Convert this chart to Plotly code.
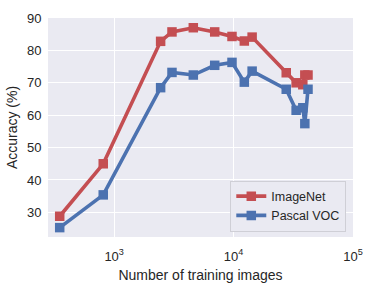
import plotly.graph_objects as go

n_images = [350, 810, 2450, 3050, 4600, 6950, 9700, 12300, 14300, 27600, 33400, 38000, 39500, 42000]
imagenet = [28.8, 45.0, 82.8, 85.7, 87.0, 85.7, 84.3, 82.9, 84.1, 73.1, 70.0, 69.4, 72.4, 72.4]
pascal = [25.3, 35.4, 68.5, 73.2, 72.4, 75.4, 76.3, 70.2, 73.6, 68.0, 61.5, 62.3, 57.4, 68.0]
series_names = ["ImageNet", "Pascal VOC"]
x_tickvals = [1e3, 1e4, 1e5]
x_ticktext = ["10<sup>3</sup>", "10<sup>4</sup>", "10<sup>5</sup>"]
y_tickvals = [30, 40, 50, 60, 70, 80, 90]

colors = ["#C44E52", "#4C72B0"]

fig = go.Figure()
for name, ys, c in zip(series_names, [imagenet, pascal], colors):
    fig.add_trace(go.Scatter(
        x=n_images, y=ys, name=name, mode="lines+markers",
        line=dict(color=c, width=3.6),
        marker=dict(symbol="square", size=9.5, color=c),
        cliponaxis=False,
    ))

fig.update_layout(
    width=374, height=291,
    margin=dict(l=47, r=18, t=11, b=50),
    paper_bgcolor="white",
    plot_bgcolor="#EAEAF2",
    font=dict(family="Liberation Sans, Arial, sans-serif", size=13, color="#262626"),
    showlegend=True,
    legend=dict(
        x=0.978, y=0.025, xanchor="right", yanchor="bottom",
        bgcolor="#EAEAF2", bordercolor="#CFCFD6", borderwidth=1,
        font=dict(size=12.5), itemwidth=30,
        tracegroupgap=0,
    ),
)
fig.update_xaxes(
    type="log", range=[2.446, 5.0],
    tickvals=x_tickvals, ticktext=x_ticktext,
    ticklabeloverflow="allow",
    showgrid=True, gridcolor="white", gridwidth=1.2,
    zeroline=False, showline=False,
    ticks="outside", ticklen=7, tickcolor="rgba(0,0,0,0)",
    tickfont=dict(size=13),
    title=dict(text="Number of training images", font=dict(size=14), standoff=7),
)
fig.update_yaxes(
    range=[22.4, 90.0],
    tickvals=y_tickvals,
    showgrid=True, gridcolor="white", gridwidth=1.2,
    zeroline=False, showline=False,
    ticks="outside", ticklen=3, tickcolor="rgba(0,0,0,0)",
    tickfont=dict(size=13),
    title=dict(text="Accuracy (%)", font=dict(size=14), standoff=6),
)

fig.write_html(
    "out.html",
    config={"displayModeBar": False},
    post_script="document.body.style.margin='0';document.body.style.padding='0';",
)
